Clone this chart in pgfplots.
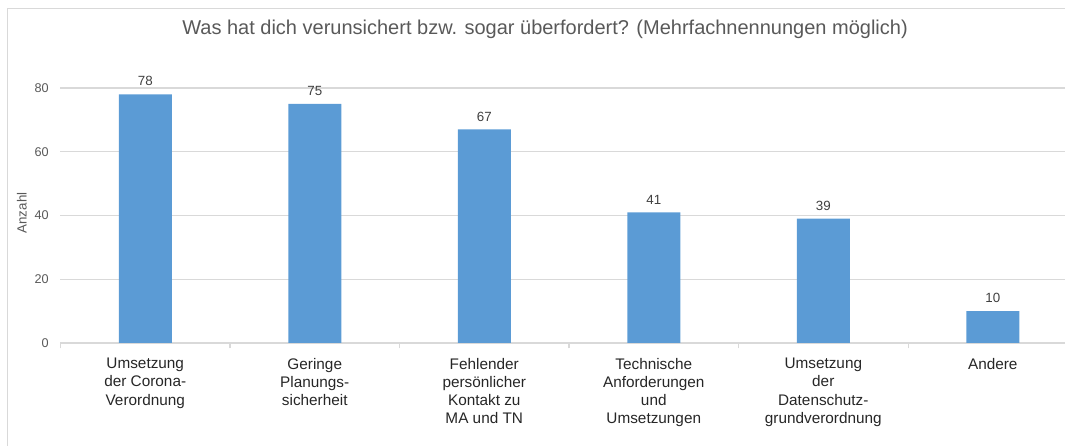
\documentclass[border=0pt]{standalone}
\usepackage{fontspec}
\setmainfont{Liberation Sans}
\usepackage{pgfplots}
\pgfplotsset{compat=1.18}
\definecolor{barblue}{HTML}{5B9BD5}
\definecolor{gridgray}{HTML}{D9D9D9}
\definecolor{txtgray}{HTML}{595959}
\definecolor{dark}{HTML}{262626}
\definecolor{lab}{HTML}{404040}
\begin{document}
\begin{tikzpicture}
\path[use as bounding box] (-45.375pt,-77.25pt) rectangle (753.375pt,257.25pt);
\draw[gridgray, line width=1.1pt] (-39.75pt,-90pt) -- (-39.75pt,250.875pt) -- (770pt,250.875pt);
\begin{axis}[
  at={(0pt,0pt)}, anchor=south west,
  scale only axis,
  width=753.375pt, height=191.25pt,
  xmin=-0.5, xmax=5.426,
  ymin=0, ymax=80,
  ytick={0,20,40,60,80},
  xtick={0,1,2,3,4,5},
  xticklabels={{Umsetzung\\der Corona-\\Verordnung},{Geringe\\Planungs-\\sicherheit},{Fehlender\\persönlicher\\Kontakt zu\\MA und TN},{Technische\\Anforderungen\\und\\Umsetzungen},{Umsetzung\\der\\Datenschutz-\\grundverordnung},{Andere}},
  xticklabel style={align=center, font=\fontsize{11.5}{13.7}\selectfont, text=dark, inner sep=0pt, anchor=north, yshift=-11pt},
  yticklabel style={font=\fontsize{9.5}{11}\selectfont, text=txtgray, inner sep=0pt, anchor=east, xshift=-8.6pt},
  /pgf/number format/assume math mode=true,
  major tick length=0pt,
  extra x ticks={-0.5,0.5,1.5,2.5,3.5,4.5},
  extra x tick labels={},
  extra x tick style={major tick length=4pt, tick align=outside, tick style={draw=gridgray, line width=0.8pt}, grid=none},
  axis x line*=bottom,
  axis y line*=left,
  x axis line style={draw=gridgray, line width=1pt, -},
  y axis line style={draw=none},
  ymajorgrids=true,
  grid style={draw=gridgray, line width=0.8pt},
  ybar,
  bar width=39.75pt,
  clip=false,
  nodes near coords,
  every node near coord/.append style={font=\fontsize{10}{12}\selectfont, text=lab, inner sep=0pt, yshift=6pt},
]
\addplot[fill=barblue, draw=none] coordinates {(0,78) (1,75) (2,67) (3,41) (4,39) (5,10)};
\end{axis}
\node[font=\fontsize{15}{18}\selectfont, text=txtgray] at (363.4pt,235.5pt) {Was hat dich verunsichert bzw. sogar überfordert? (Mehrfachnennungen möglich)};
\node[font=\fontsize{10}{12}\selectfont, text=txtgray, rotate=90] at (-28.9pt,97.5pt) {Anzahl};
\end{tikzpicture}
\end{document}
